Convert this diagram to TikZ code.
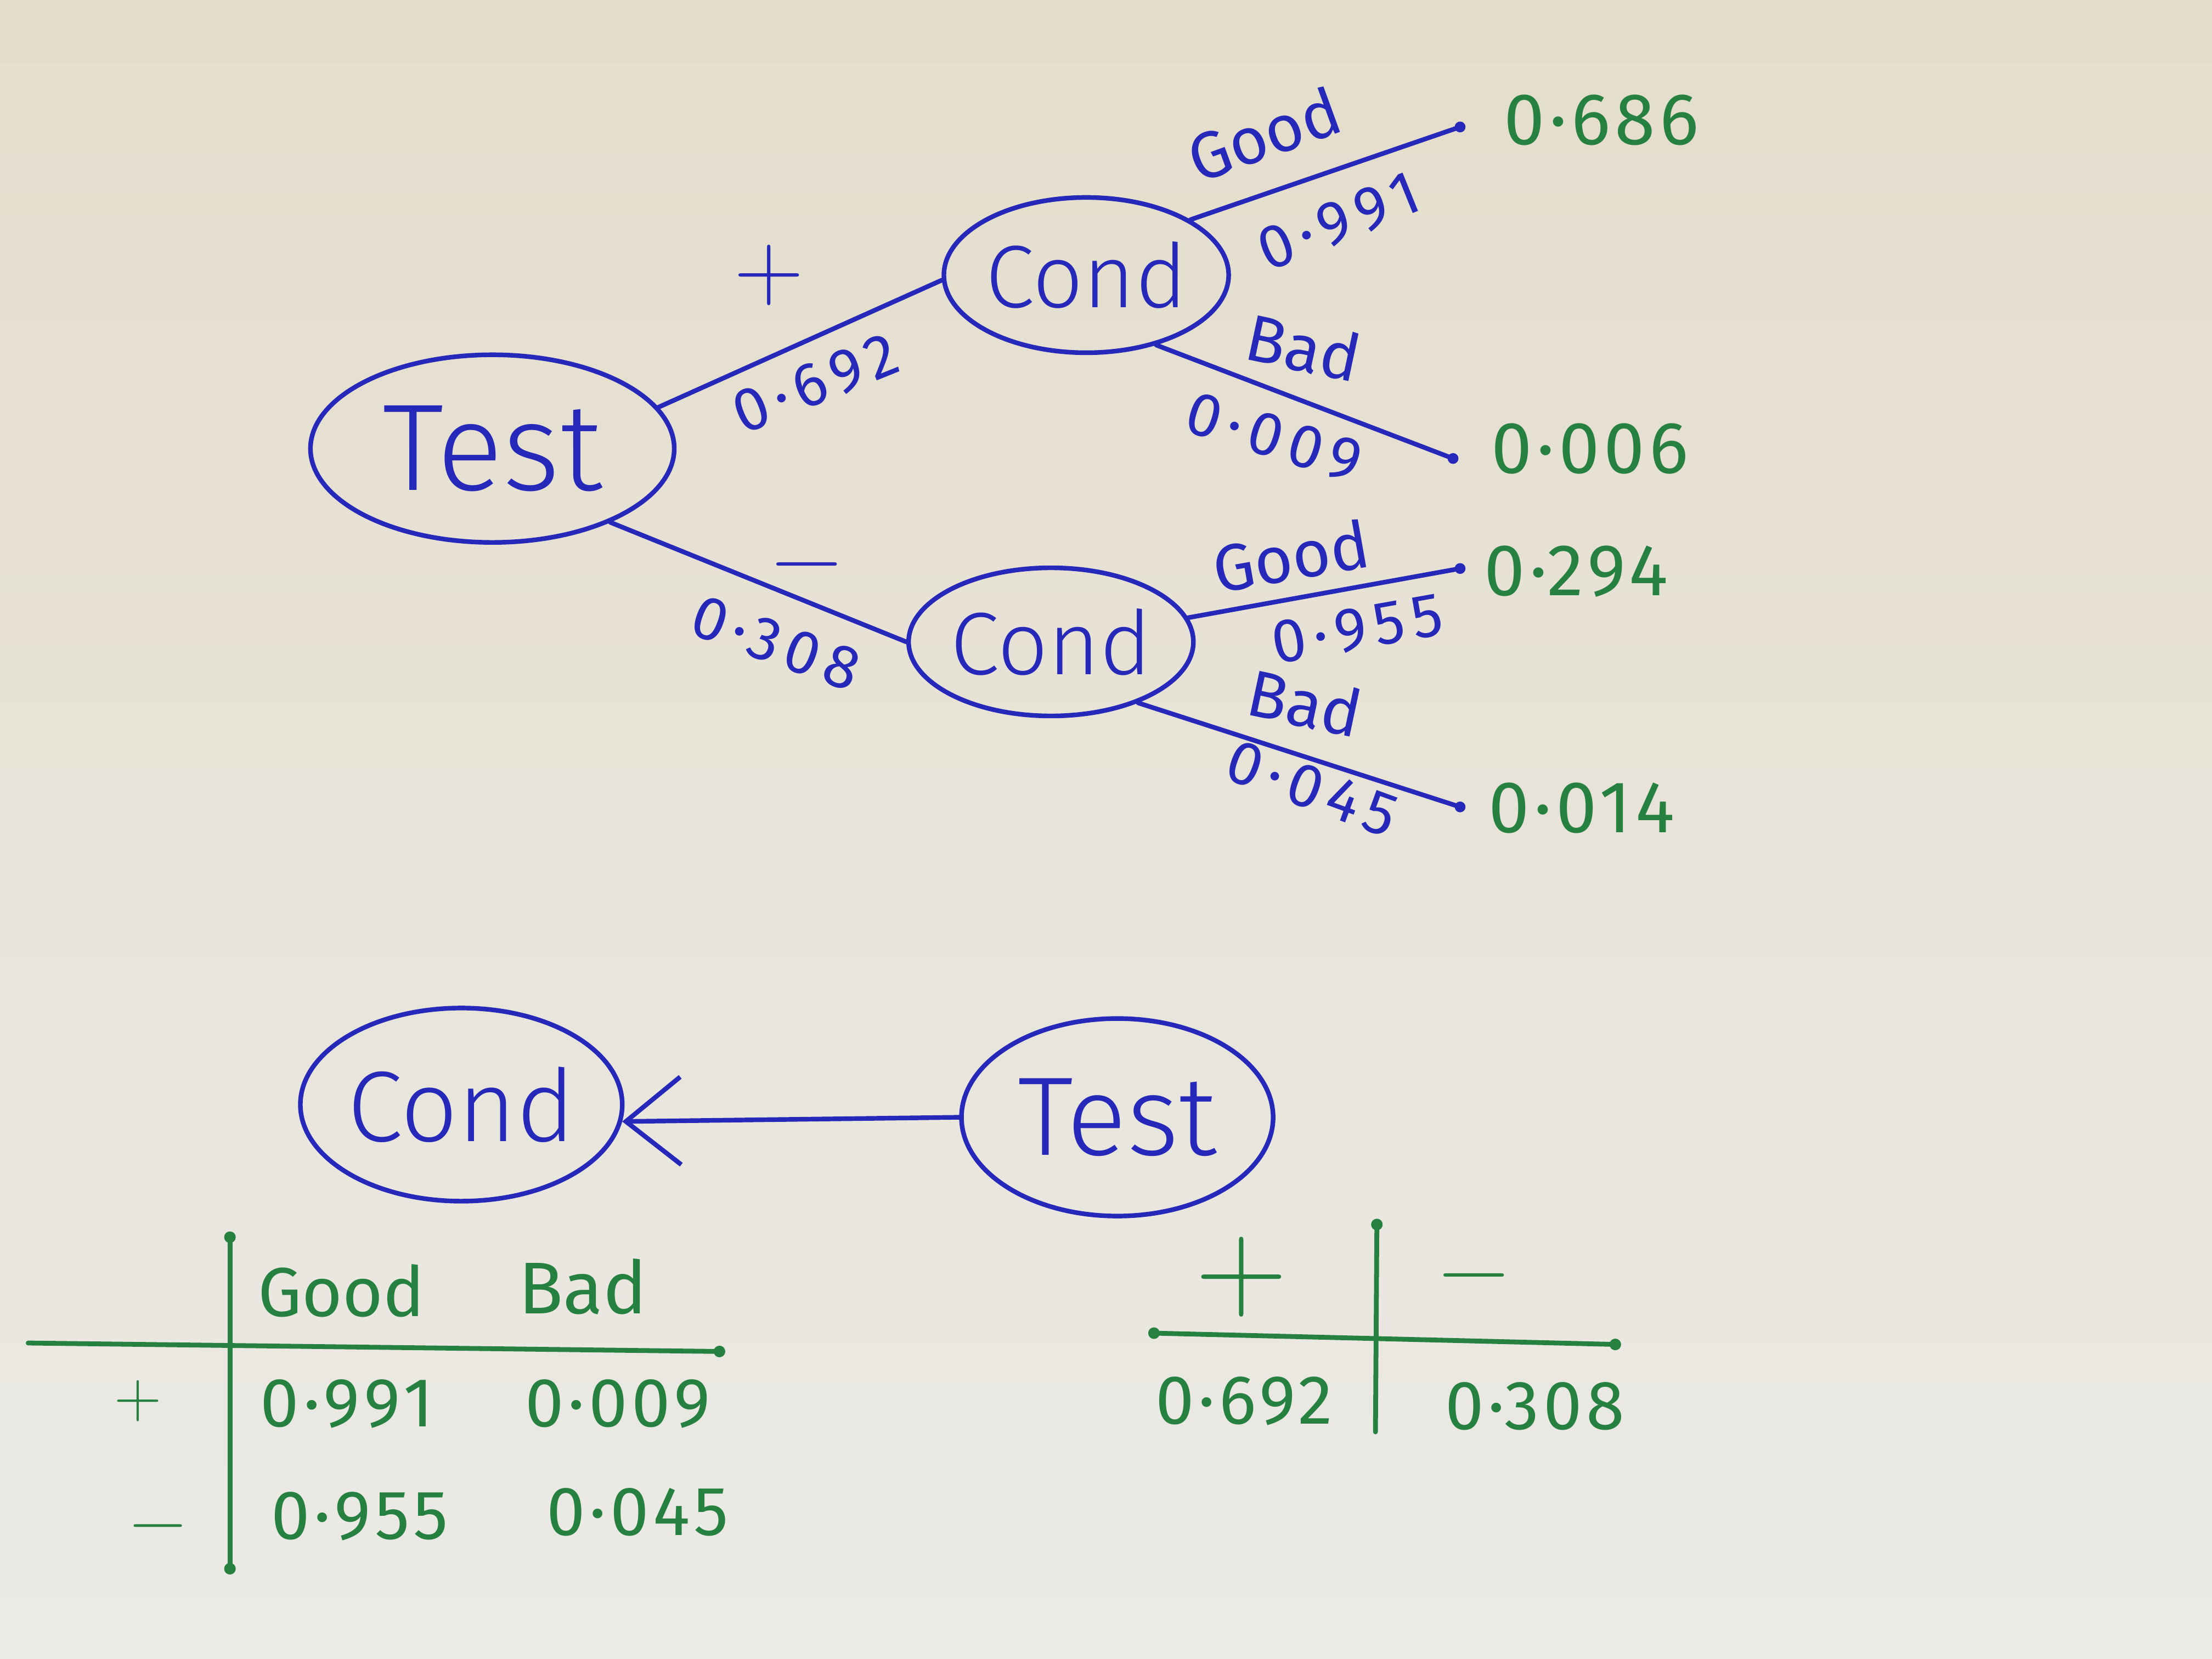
\documentclass[tikz,border=0pt]{standalone}
\usepackage{fontspec}
\newfontfamily\hand{Fira Sans}
\newfontfamily\handlight{Fira Sans Light}
\newfontfamily\wide[LetterSpace=6]{Fira Sans}
\newfontfamily\wider[LetterSpace=12]{Fira Sans}
\usetikzlibrary{shapes.geometric,arrows.meta}
\definecolor{inkblue}{RGB}{38,40,185}
\definecolor{inkgreen}{RGB}{38,128,64}
\definecolor{paperA}{RGB}{228,221,203}
\definecolor{paperB}{RGB}{239,237,229}
\definecolor{paperC}{RGB}{235,234,230}
\begin{document}
\begin{tikzpicture}[x=0.025714cm,y=-0.025714cm,
  ink/.style={draw=inkblue,line width=2.4pt,line cap=round,line join=round},
  gink/.style={draw=inkgreen,line width=2.5pt,line cap=round},
  bubble/.style={ellipse,ink,inner sep=0pt,text=inkblue,font=\handlight\fontsize{#1}{#1}\selectfont},
  bt/.style={text=inkblue,inner sep=0pt,font=\hand\fontsize{#1}{#1}\selectfont},
  bnum/.style={text=inkblue,inner sep=0pt,font=\wider\fontsize{#1}{#1}\selectfont},
  gt/.style={text=inkgreen,inner sep=0pt,font=\wide\fontsize{#1}{#1}\selectfont},
  gw/.style={text=inkgreen,inner sep=0pt,font=\hand\fontsize{#1}{#1}\selectfont},
  bsym/.style={text=inkblue,inner sep=0pt,font=\rmfamily\fontsize{#1}{#1}\selectfont},
  gsym/.style={text=inkgreen,inner sep=0pt,font=\rmfamily\fontsize{#1}{#1}\selectfont}
]
% paper
\shade[top color=paperA, middle color=paperB, bottom color=paperC] (0,0) rectangle (1568,1176);
\useasboundingbox (0,0) rectangle (1568,1176);

% ---------- tree ----------
\node[bubble=64, minimum width=6.63cm, minimum height=3.42cm] (test) at (349,318) {Test};
\node[bubble=46, minimum width=4.63cm, minimum height=2.83cm] (condA) at (770,195) {Cond};
\node[bubble=46, minimum width=4.63cm, minimum height=2.70cm] (condB) at (745,455) {Cond};
\coordinate (eA1) at (1035,90);
\coordinate (eA2) at (1030,325);
\coordinate (eB1) at (1035,403);
\coordinate (eB2) at (1035,572);

\draw[ink] (test.14) -- (condA.182);
\draw[ink] (test.-32) -- (condB.180);
\draw[ink] (condA.28) -- (eA1);
\draw[ink] (condA.-45) -- (eA2);
\draw[ink] (condB.10) -- (eB1);
\draw[ink] (condB.-35) -- (eB2);
\foreach \p in {eA1,eA2,eB1,eB2} \fill[inkblue] (\p) circle (2.8pt);

\node[bsym=50] (plus1) at (545,195) {+};
\node[bsym=50] (minus1) at (572,408) {−};
\node[bnum=32, rotate=22] (p692) at (578,272) {0·692};
\node[bnum=32, rotate=-20] (p308) at (550,456) {0·308};
\node[bt=34, rotate=20] (gA) at (896,95) {Good};
\node[bnum=32, rotate=22] (nA1) at (949,157) {0·991};
\node[bt=34, rotate=-12] (bA) at (924,246) {Bad};
\node[bnum=32, rotate=-17] (nA2) at (903,310) {0·009};
\node[bt=34, rotate=10] (gB) at (915,394) {Good};
\node[bnum=32, rotate=10] (nB1) at (962,446) {0·955};
\node[bt=34, rotate=-12] (bB) at (925,498) {Bad};
\node[bnum=32, rotate=-20] (nB2) at (930,559) {0·045};

\node[gt=38, anchor=west] (vA1) at (1066,85) {0·686};
\node[gt=38, anchor=west] (vA2) at (1057,318) {0·006};
\node[gt=38, anchor=west] (vB1) at (1052,405) {0·294};
\node[gt=38, anchor=west] (vB2) at (1055,573) {0·014};

% ---------- network ----------
\node[bubble=52, minimum width=5.53cm, minimum height=3.52cm] (cond2) at (327,783) {Cond};
\node[bubble=58, minimum width=5.68cm, minimum height=3.60cm] (test2) at (792,792) {Test};
\draw[ink, -{Straight Barb[length=1cm,width=1.6cm]}] (test2.180) -- (cond2.-6);

% ---------- left table ----------
\coordinate (L1) at (20,952);
\coordinate (L2) at (510,958);
\coordinate (L3) at (163,877);
\coordinate (L4) at (163,1112);
\draw[gink] (L1) -- (L2);
\draw[gink] (L3) -- (L4);
\foreach \p in {L2,L3,L4} \fill[inkgreen] (\p) circle (3pt);
\node[gw=36] (tGood) at (242,915) {Good};
\node[gw=38] (tBad) at (413,912) {Bad};
\node[gsym=34] (tplus) at (98,993) {+};
\node[gsym=40] (tminus) at (112,1088) {−};
\node[gt=36] (t11) at (246,995) {0·991};
\node[gt=36] (t12) at (438,995) {0·009};
\node[gt=36] (t21) at (255,1075) {0·955};
\node[gt=36] (t22) at (452,1072) {0·045};

% ---------- right table ----------
\coordinate (R1) at (818,945);
\coordinate (R2) at (1145,953);
\coordinate (R3) at (976,868);
\coordinate (R4) at (975,1015);
\draw[gink] (R1) -- (R2);
\draw[gink] (R3) -- (R4);
\foreach \p in {R1,R2,R3} \fill[inkgreen] (\p) circle (3pt);
\node[gsym=66] (rplus) at (880,905) {+};
\node[gsym=50] (rminus) at (1045,912) {−};
\node[gt=36] (r1) at (882,993) {0·692};
\node[gt=36] (r2) at (1088,997) {0·308};
\end{tikzpicture}
\end{document}
